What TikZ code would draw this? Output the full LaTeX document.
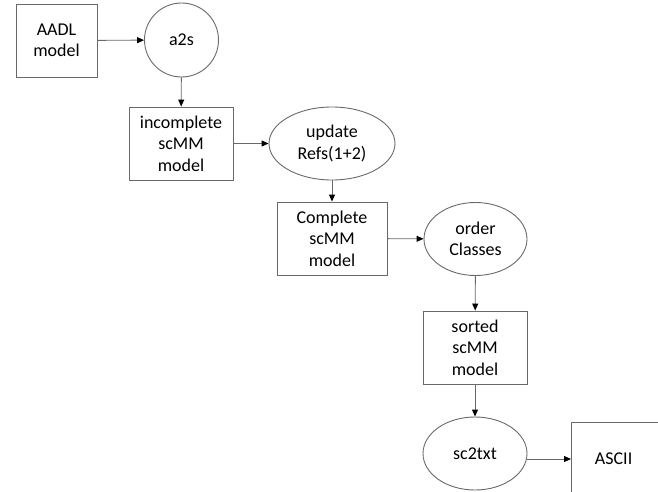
\documentclass[tikz,border=0pt]{standalone}
\usepackage{fontspec}
\setmainfont{Carlito}
\usepackage{xcolor}
\usepackage{tikz}
\usetikzlibrary{arrows.meta,shapes.geometric}
\definecolor{edgegray}{RGB}{105,105,105}
\tikzset{
  databox/.style={draw=edgegray, line width=0.9pt, rectangle, align=center,
    minimum width=#1, minimum height=73pt, inner sep=0pt},
  procnode/.style={draw=edgegray, line width=0.9pt, ellipse, align=center,
    minimum width=#1, minimum height=73pt, inner sep=0pt},
  flow/.style={draw=edgegray, line width=0.9pt, -{Triangle[length=7pt,width=6pt,color=black]}}
}
\begin{document}
\begin{tikzpicture}[x=1pt,y=-1pt]
\fontsize{18}{21.5}\selectfont
\useasboundingbox (0,0) rectangle (658,492);
\clip (0,0) rectangle (658,492);
  \node[databox=81pt] (aadl) at (56.5,40.5) {AADL\\model};
  \node[draw=edgegray, line width=0.9pt, circle, minimum size=74pt, inner sep=0pt] (a2s) at (181.5,40) {a2s};
  \node[databox=104pt] (incomplete) at (181,143.5) {incomplete\\scMM\\model};
  \node[procnode=126pt] (update) at (332,143.5) {update\\Refs(1+2)};
  \node[databox=110pt] (complete) at (332,238.5) {Complete\\scMM\\model};
  \node[procnode=103pt] (order) at (475.5,239) {order\\Classes};
  \node[databox=104pt] (sorted) at (475,347.5) {sorted\\scMM\\model};
  \node[procnode=104pt] (sctxt) at (475,453.5) {sc2txt};
  % output file, runs off the page
  \node[draw=edgegray, line width=0.9pt, rectangle, anchor=west, minimum height=74pt,
    inner xsep=23.5pt, text width=62pt, align=left] (ascii) at (571,459) {ASCII};
  \draw[flow] (aadl) -- (a2s);
  \draw[flow] (a2s) -- (incomplete);
  \draw[flow] (incomplete) -- (update);
  \draw[flow] (update) -- (complete);
  \draw[flow] (complete) -- (order);
  \draw[flow] (order) -- (sorted);
  \draw[flow] (sorted) -- (sctxt);
  \draw[flow] (sctxt.east |- ascii.west) -- (ascii.west);
\end{tikzpicture}
\end{document}
